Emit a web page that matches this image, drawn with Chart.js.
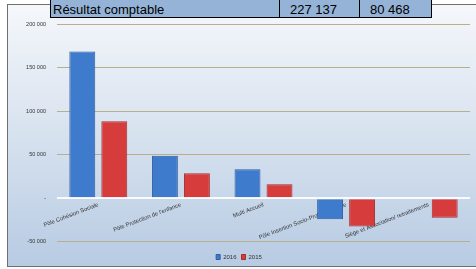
<!DOCTYPE html>
<html>
<head>
<meta charset="utf-8">
<script src="https://cdn.jsdelivr.net/npm/chart.js@4"></script>
<style>
  body { margin: 0; width: 476px; height: 269px; background: #fff; position: relative; overflow: hidden; font-family: "Liberation Sans", Arial, sans-serif; }
  #frame { position: absolute; left: 7px; top: 4px; width: 480px; height: 261px; border: 1px solid #707070; overflow: hidden;
           background: linear-gradient(#f5f7fb 0%, #dae4f0 45%, #b7cbe3 100%); }
  #box { position: absolute; left: 0; top: 0; width: 468px; height: 265px; }
  #row { position: absolute; left: 50px; top: 0; width: 380px; height: 17px; background: #95b3d7;
         border-left: 1px solid #000; border-right: 1px solid #000; border-bottom: 1px solid #000; display: flex; z-index: 2; }
  #row div { height: 17px; line-height: 20px; font-size: 13px; color: #000; white-space: nowrap; overflow: hidden; }
  #row .c1 { width: 226px; padding-left: 2px; border-right: 1px solid #000; }
  #row .c2 { width: 69px; padding-left: 10px; border-right: 1px solid #000; }
  #row .c3 { width: 60px; padding-left: 10px; }
</style>
</head>
<body>
<div id="frame"><div id="box"><canvas id="myChart"></canvas></div></div>
<div id="row"><div class="c1">Résultat comptable</div><div class="c2">227 137</div><div class="c3">80 468</div></div>
<script>
const categories = ['Pôle Cohésion Sociale', "Pôle Protection de l'enfance", 'Multi Accueil',
  'Pôle Insertion Socio-Professionnelle', 'Siège et Association/ retraitements'];
const seriesNames = ['2016', '2015'];
const values2016 = [168500, 48900, 33400, -24000, 1200];
const values2015 = [88500, 28800, 16200, -32500, -22500];
const yMin = -50000, yMax = 200000, yStep = 50000;

const fmt = v => v === 0 ? '-' : (v < 0 ? '-' : '') + Math.abs(v).toString().replace(/\B(?=(\d{3})+(?!\d))/g, ' ');

const chartEl = document.getElementById('myChart');
if (chartEl) {
  const ctx = chartEl.getContext('2d');
  new Chart(ctx, {
    type: 'bar',
    data: {
      labels: categories,
      datasets: [{
        label: seriesNames[0],
        data: values2016,
        backgroundColor: '#3f7bcc',
        borderColor: '#2d5e9e',
        borderWidth: 1,
        categoryPercentage: 0.775,
        barPercentage: 0.81
      }, {
        label: seriesNames[1],
        data: values2015,
        backgroundColor: '#d63c3c',
        borderColor: '#a82c2c',
        borderWidth: 1,
        categoryPercentage: 0.775,
        barPercentage: 0.81
      }]
    },
    options: {
      responsive: true,
      maintainAspectRatio: false,
      animation: false,
      layout: { padding: { top: 19, right: 6, left: 0, bottom: 0 } },
      plugins: {
        tooltip: { enabled: false },
        legend: {
          position: 'bottom',
          title: { display: true, text: ' ', font: { size: 1 }, padding: { top: 0, bottom: 6 } },
          labels: { boxWidth: 4, boxHeight: 5, padding: 5, color: '#333', font: { size: 6, family: 'Liberation Sans' } }
        }
      },
      scales: {
        x: {
          position: { y: 0 },
          z: 1,
          grid: { display: false },
          border: { display: false },
          ticks: {
            autoSkip: false, minRotation: 21, maxRotation: 21, padding: -5,
            color: '#333', font: { size: 5.8, family: 'Liberation Sans' }
          }
        },
        y: {
          min: yMin, max: yMax,
          afterFit: s => { s.width = 49; },
          border: { display: false },
          grid: {
            drawTicks: false,
            color: c => c.tick && c.tick.value === 0 ? 'rgba(255,255,255,0.9)' : '#b7b08c',
            lineWidth: c => c.tick && c.tick.value === 0 ? 2 : 1
          },
          ticks: {
            stepSize: yStep, padding: 11, color: '#333',
            font: { size: 5.5, family: 'Liberation Sans' },
            callback: v => fmt(v)
          }
        }
      }
    }
  });
}
</script>
</body>
</html>
